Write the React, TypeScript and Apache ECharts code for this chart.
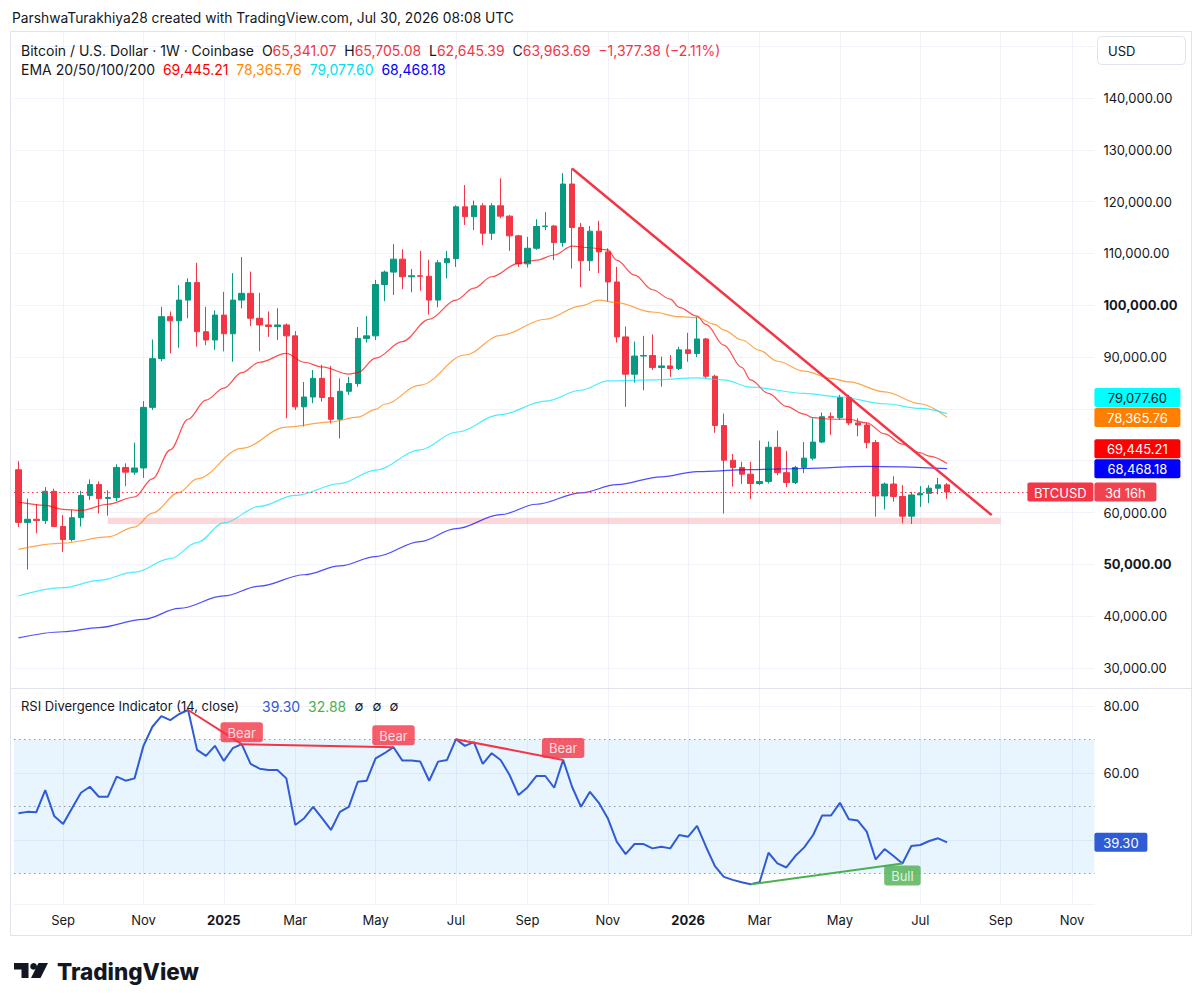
import React, { useEffect, useRef } from 'react';
import * as echarts from 'echarts';

const FONT = 'Inter, "Noto Sans", Roboto, sans-serif';
const INK = '#131722';
const UP = '#089981';
const DOWN = '#f23645';
const GRID = '#f0f3fa';

// Weekly slots (Monday opens) from 29 Jul 2024; the last 16 slots are the empty right margin
const firstWeekUTC = Date.UTC(2024, 6, 29);
const slotCount = 121;
const weeks: string[] = Array.from({ length: slotCount }, (_, i) =>
  new Date(firstWeekUTC + i * 604800000).toISOString().slice(0, 10)
);

const xTickWeeks = [5, 14, 23, 31, 40, 49, 57, 66, 75, 83, 92, 101, 110, 118];
const xTickLabels = ['Sep', 'Nov', '2025', 'Mar', 'May', 'Jul', 'Sep', 'Nov', '2026', 'Mar', 'May', 'Jul', 'Sep', 'Nov'];

// BTC / USD weekly bars: [open, high, low, close]
const btcWeekly: number[][] = [
  [68250, 69900, 57200, 58100], [58100, 62700, 49000, 58700], [58700, 61600, 56000, 58450], [58450, 64900, 57800, 64100],
  [64100, 64600, 57200, 57300], [57300, 59500, 52400, 54800], [54800, 60500, 54400, 59000], [59000, 64200, 57300, 63300],
  [63300, 66400, 62400, 65400], [65400, 66000, 59800, 62700], [62700, 64300, 59400, 62900], [62900, 69300, 62200, 68700],
  [68700, 69500, 65100, 67800], [67800, 73500, 67300, 68600], [68600, 81500, 66700, 80300], [80300, 93400, 79800, 89700],
  [89700, 99700, 89200, 97800], [97800, 98800, 90700, 97000], [97000, 103900, 91800, 101000], [101000, 105200, 97500, 104400],
  [104400, 108200, 92000, 94900], [94900, 99700, 92300, 93300], [93300, 99000, 91400, 98100], [98100, 102600, 91100, 94500],
  [94500, 106200, 89100, 101000], [101000, 109300, 99400, 102300], [102300, 106500, 96000, 97500], [97500, 102400, 91100, 96200],
  [96200, 98800, 93900, 95900], [95900, 99400, 93300, 96200], [96200, 96500, 78200, 94100], [94100, 95000, 79800, 80400],
  [80400, 85200, 76600, 82300], [82300, 87500, 81100, 85900], [85900, 88500, 81400, 82200], [82200, 88300, 77200, 78000],
  [78000, 85900, 74300, 83400], [83400, 86200, 82700, 84900], [84900, 95800, 84300, 93600], [93600, 97900, 92800, 94100],
  [94100, 104900, 93300, 104000], [104000, 106700, 100800, 106400], [106400, 111800, 102000, 108900], [108900, 110800, 103100, 105500],
  [105500, 107000, 102500, 105700], [105700, 110500, 102800, 105600], [105600, 108800, 98200, 101000], [101000, 108700, 99600, 108200],
  [108200, 110500, 105200, 109000], [109000, 119300, 107400, 119000], [119000, 123200, 115500, 117100], [117100, 120200, 114500, 119200],
  [119200, 119700, 111600, 113900], [113900, 119700, 112600, 119200], [119200, 124500, 116800, 117200], [117200, 117400, 110500, 113400],
  [113400, 113600, 107400, 108000], [108000, 113200, 107300, 111000], [111000, 116600, 110700, 115200], [115200, 118000, 114500, 115300],
  [115300, 115500, 108700, 112100], [112100, 125500, 111300, 123400], [123400, 126400, 107100, 115000], [115000, 115900, 103500, 108600],
  [108600, 115300, 106600, 114300], [114300, 116300, 106200, 110300], [110300, 111000, 100700, 104500], [104500, 107400, 92800, 93900],
  [93900, 95900, 80400, 86700], [86700, 93000, 85100, 90200], [90200, 94100, 83600, 90300], [90300, 94400, 87500, 88000],
  [88000, 90100, 84300, 88300], [88300, 90400, 86200, 87800], [87800, 92000, 87500, 91400], [91400, 94700, 89100, 90700],
  [90700, 97800, 90000, 93500], [93500, 93700, 85900, 86300], [86300, 86600, 75400, 76800], [76800, 79100, 59800, 70100],
  [70100, 71300, 65000, 68700], [68700, 69800, 65500, 67400], [67400, 69800, 62600, 65600], [65600, 73900, 65300, 66000],
  [66000, 73700, 65600, 72600], [72600, 75800, 67200, 67700], [67700, 71900, 64900, 65800], [65800, 69000, 65500, 68700],
  [68700, 73600, 67600, 70500], [70500, 78200, 70100, 73600], [73600, 79300, 73400, 78500], [78500, 79300, 75000, 78300],
  [78300, 82700, 77900, 82200], [82200, 82700, 76900, 77300], [77300, 78200, 74700, 76900], [76900, 77300, 72400, 73500],
  [73500, 74000, 59200, 63200], [63200, 65800, 60600, 65500], [65500, 67000, 62100, 63100], [63100, 65300, 57900, 59300],
  [59300, 64000, 57800, 63400], [63400, 65100, 61100, 63700], [63700, 65300, 61800, 64700], [64700, 66700, 63500, 65341.07],
  [65341.07, 65705.08, 62645.39, 63963.69],
];

// Moving averages, sampled as [week, value]
const ema20: number[][] = [
  [0, 62000], [3, 61400], [5, 60600], [7, 60400], [10, 61600], [13, 63000], [15, 66500], [17, 72100], [19, 78000],
  [21, 81700], [23, 84000], [25, 87000], [27, 89000], [30, 90700], [32, 89000], [34, 88100], [37, 86700], [38, 87000],
  [40, 89800], [43, 93000], [46, 97300], [49, 101000], [51, 103300], [53, 105500], [56, 108100], [58, 108700],
  [60, 109700], [62, 111400], [64, 111100], [66, 110700], [67, 108700], [69, 105800], [71, 103000], [73, 101200],
  [74, 99600], [76, 97900], [77, 96300], [79, 92300], [81, 88000], [82, 85600], [84, 83000], [86, 80500], [88, 79000],
  [89, 78300], [91, 78000], [93, 78000], [95, 77300], [97, 75200], [99, 73200], [101, 71500], [102, 70900], [104, 69445.21],
];
const ema50: number[][] = [
  [0, 52900], [5, 54100], [10, 55300], [13, 57200], [15, 59900], [18, 63900], [20, 66500], [25, 72400], [30, 76500],
  [35, 77500], [38, 78400], [40, 79900], [41, 80900], [45, 84600], [50, 90400], [54, 94200], [59, 97300], [63, 99900],
  [65, 101000], [67, 100500], [71, 98700], [74, 97800], [76, 97600], [78, 96300], [79, 95200], [81, 93300], [83, 91300],
  [85, 89200], [88, 87300], [91, 85900], [93, 85200], [97, 83300], [101, 81000], [104, 78365.76],
];
const ema100: number[][] = [
  [0, 43900], [5, 45500], [9, 46900], [13, 48500], [17, 51100], [20, 54200], [23, 58000], [27, 61200], [31, 63300],
  [36, 65600], [40, 68200], [45, 72100], [49, 75500], [54, 78900], [59, 81500], [63, 83600], [66, 85400], [71, 85600],
  [76, 86000], [79, 85600], [82, 84200], [88, 83000], [92, 82300], [97, 81000], [101, 80100], [104, 79077.6],
];
const ema200: number[][] = [
  [0, 35800], [5, 37000], [9, 37800], [14, 39400], [18, 41500], [23, 43900], [27, 45800], [32, 48000], [36, 49700],
  [40, 51500], [45, 54400], [49, 56900], [54, 59600], [58, 61600], [63, 63800], [67, 65400], [72, 66900], [76, 67900],
  [82, 68300], [88, 68500], [95, 68900], [104, 68468.18],
];

// RSI(14) on weekly closes
const rsi14: number[] = [
  48.0, 48.4, 48.3, 54.9, 47.2, 44.8, 49.5, 54.1, 55.9, 52.9, 52.9, 58.9, 57.7, 58.4, 68.1, 73.8, 77.0, 75.8, 77.6, 78.8,
  66.9, 65.1, 68.1, 63.6, 67.4, 68.6, 62.7, 61.3, 60.9, 60.9, 58.4, 44.5, 46.5, 49.9, 46.5, 43.0, 48.4, 49.9, 57.4, 57.7,
  64.4, 65.9, 67.7, 63.7, 63.7, 63.4, 57.7, 63.4, 63.9, 70.1, 68.1, 69.2, 62.7, 65.9, 63.9, 59.4, 53.4, 55.7, 59.1, 59.1,
  55.6, 63.9, 55.9, 49.9, 54.4, 51.1, 46.5, 39.5, 35.8, 38.8, 38.8, 37.5, 38.0, 37.5, 41.5, 41.0, 44.2, 38.0, 32.2, 29.0,
  28.1, 27.4, 26.8, 27.4, 36.2, 33.0, 31.8, 35.2, 37.8, 41.5, 47.3, 47.3, 51.1, 46.2, 45.8, 42.5, 34.2, 37.3, 35.2, 33.0,
  38.2, 38.5, 39.7, 40.5, 39.3,
];
const rsiSecondValue = 32.88;

// Divergences between RSI pivots: [fromWeek, toWeek]
const bearPairs: number[][] = [[19, 25], [25, 42], [49, 61]];
const bullPairs: number[][] = [[82, 99]];

const supportZone = { fromWeek: 10, toWeek: 110, low: 57800, high: 59000 };
const trendLine: number[][] = [[62, 126400], [109, 59500]];

const priceRange = [26140, 152930];
const priceTicks = [30000, 40000, 50000, 60000, 70000, 80000, 90000, 100000, 110000, 120000, 130000, 140000];
const rsiRange = [20.9, 85.37];
const rsiLevels = [70, 50, 30];

const fmt2 = (v: number) =>
  v.toLocaleString('en-US', { minimumFractionDigits: 2, maximumFractionDigits: 2 });
const signed = (v: number) => (v < 0 ? '\u2212' : '+') + fmt2(Math.abs(v));

const emaDefs = [
  { name: 'EMA 20', pts: ema20, line: '#ff0000', tagBg: '#ff0000', tagFg: '#ffffff', legend: '#ff0000' },
  { name: 'EMA 50', pts: ema50, line: '#ff8000', tagBg: '#ff8000', tagFg: '#ffffff', legend: '#ff8a00' },
  { name: 'EMA 100', pts: ema100, line: '#00e5ff', tagBg: '#00ffff', tagFg: INK, legend: '#00e0f0' },
  { name: 'EMA 200', pts: ema200, line: '#0000ff', tagBg: '#0000ff', tagFg: '#ffffff', legend: '#0000ff' },
];

const GRID_LEFT = 14;
const GRID_W = 1080.4;
const GRID_RIGHT = GRID_LEFT + GRID_W;
const TAG_H = 19;

function priceLabelFormatter(hidden: Set<number>) {
  return (v: number) => {
    if (!priceTicks.includes(v) || hidden.has(v)) return '';
    const s = fmt2(v);
    return v === 100000 || v === 50000 ? `{b|${s}}` : s;
  };
}

function buildOption(): any {
  const candles = btcWeekly.map(([o, h, l, c]) => [o, c, l, h]);
  const lastClose = btcWeekly[btcWeekly.length - 1][3];
  const tickSet = new Set(xTickWeeks);
  const tickInterval = (i: number) => tickSet.has(i);

  const xBase = {
    type: 'category',
    data: weeks,
    boundaryGap: true,
    axisLine: { show: false },
    axisTick: { show: false },
    splitLine: { show: true, interval: tickInterval, alignWithLabel: true, lineStyle: { color: GRID, width: 1 } },
  };

  const divergenceSeries = (pairs: number[][], color: string) =>
    pairs.map(([a, b]) => ({
      type: 'line',
      xAxisIndex: 1,
      yAxisIndex: 1,
      data: [[a, rsi14[a]], [b, rsi14[b]]],
      symbol: 'none',
      silent: true,
      lineStyle: { color, width: 2 },
      z: 6,
    }));

  const divergenceLabels = (pairs: number[][], text: string, bg: string, pos: string) => ({
    type: 'scatter',
    xAxisIndex: 1,
    yAxisIndex: 1,
    data: pairs.map(([, b]) => [b, rsi14[b]]),
    symbolSize: 0,
    silent: true,
    z: 8,
    label: {
      show: true,
      position: pos,
      distance: 2,
      formatter: text,
      color: '#ffffff',
      backgroundColor: bg,
      borderRadius: 3,
      padding: [3, 7, 2, 7],
      fontSize: 13,
      lineHeight: 15,
      fontFamily: FONT,
    },
  });

  return {
    animation: false,
    backgroundColor: '#ffffff',
    textStyle: { fontFamily: FONT },
    grid: [
      { left: GRID_LEFT, top: 31, width: GRID_W, height: 657 },
      { left: GRID_LEFT, top: 688, width: GRID_W, height: 216 },
    ],
    xAxis: [
      { ...xBase, gridIndex: 0, axisLabel: { show: false } },
      {
        ...xBase,
        gridIndex: 1,
        axisLabel: {
          show: true,
          interval: tickInterval,
          margin: 9,
          color: INK,
          fontSize: 13,
          fontFamily: FONT,
          formatter: (_v: string, i: number) => {
            const t = xTickLabels[xTickWeeks.indexOf(i)] || '';
            return /^\d{4}$/.test(t) ? `{y|${t}}` : t;
          },
          rich: { y: { fontWeight: 'bold', fontSize: 13, fontFamily: FONT, color: INK } },
        },
      },
    ],
    yAxis: [
      {
        type: 'value',
        gridIndex: 0,
        position: 'right',
        min: priceRange[0],
        max: priceRange[1],
        splitNumber: 13,
        axisLine: { show: false },
        axisTick: { show: false },
        splitLine: { show: true, lineStyle: { color: GRID, width: 1 } },
        axisLabel: {
          showMinLabel: false,
          showMaxLabel: false,
          margin: 9,
          color: INK,
          fontSize: 13,
          fontFamily: FONT,
          formatter: priceLabelFormatter(new Set()),
          rich: { b: { fontWeight: 'bold', fontSize: 13, fontFamily: FONT, color: INK } },
        },
      },
      {
        type: 'value',
        gridIndex: 1,
        position: 'right',
        min: rsiRange[0],
        max: rsiRange[1],
        splitNumber: 3,
        axisLine: { show: false },
        axisTick: { show: false },
        splitLine: { show: true, lineStyle: { color: GRID, width: 1 } },
        axisLabel: {
          showMinLabel: false,
          showMaxLabel: false,
          margin: 9,
          color: INK,
          fontSize: 13,
          fontFamily: FONT,
          formatter: (v: number) => (v === 80 || v === 60 ? v.toFixed(2) : ''),
        },
      },
    ],
    series: [
      {
        type: 'candlestick',
        name: 'BTCUSD',
        xAxisIndex: 0,
        yAxisIndex: 0,
        data: candles,
        barWidth: '66%',
        z: 3,
        itemStyle: { color: UP, color0: DOWN, borderColor: UP, borderColor0: DOWN, borderWidth: 1 },
        markArea: {
          silent: true,
          itemStyle: { color: 'rgba(242,54,69,0.2)' },
          data: [[
            { xAxis: supportZone.fromWeek, yAxis: supportZone.high },
            { xAxis: supportZone.toWeek, yAxis: supportZone.low },
          ]],
        },
        markLine: {
          silent: true,
          symbol: 'none',
          label: { show: false },
          lineStyle: { color: DOWN, type: [1.5, 3], width: 1 },
          data: [{ yAxis: lastClose }],
        },
      },
      ...emaDefs.map((d) => ({
        type: 'line',
        name: d.name,
        xAxisIndex: 0,
        yAxisIndex: 0,
        data: d.pts,
        symbol: 'none',
        smooth: 0.35,
        smoothMonotone: 'x',
        silent: true,
        z: 4,
        lineStyle: { color: d.line, width: 1.2, opacity: 0.7 },
      })),
      {
        type: 'line',
        name: 'Trend',
        xAxisIndex: 0,
        yAxisIndex: 0,
        data: trendLine,
        symbol: 'none',
        silent: true,
        z: 5,
        lineStyle: { color: DOWN, width: 2.5 },
      },
      {
        type: 'line',
        name: 'RSI',
        xAxisIndex: 1,
        yAxisIndex: 1,
        data: rsi14,
        symbol: 'none',
        silent: true,
        z: 5,
        lineStyle: { color: '#2f5cd5', width: 2 },
        markArea: {
          silent: true,
          itemStyle: { color: 'rgba(33,150,243,0.1)' },
          data: [[{ yAxis: 30 }, { yAxis: 70 }]],
        },
        markLine: {
          silent: true,
          symbol: 'none',
          label: { show: false },
          lineStyle: { color: '#9598a1', type: [1.5, 3.5], width: 1 },
          data: rsiLevels.map((v) => ({ yAxis: v })),
        },
      },
      ...divergenceSeries(bearPairs, DOWN),
      ...divergenceSeries(bullPairs, '#4caf50'),
      divergenceLabels(bearPairs, 'Bear', DOWN, 'top'),
      divergenceLabels(bullPairs, 'Bull', '#4caf50', 'bottom'),
    ],
  };
}

function text(x: number, y: number, content: string, extra: any = {}, z = 50): any {
  return {
    type: 'text',
    x,
    y,
    z,
    silent: true,
    style: {
      text: content,
      fill: INK,
      fontSize: 13,
      fontFamily: FONT,
      align: 'left',
      verticalAlign: 'middle',
      textAlign: 'left',
      textVerticalAlign: 'middle',
      ...extra,
    },
  };
}

function tag(x: number, yMid: number, w: number, label: string, bg: string, fg: string): any[] {
  return [
    { type: 'rect', z: 90, silent: true, shape: { x, y: yMid - TAG_H / 2, width: w, height: TAG_H, r: 2 }, style: { fill: bg } },
    text(x + w / 2, yMid + 0.5, label, { fill: fg, align: 'center', textAlign: 'center' }, 91),
  ];
}

function buildOverlay(chart: any): { elements: any[]; hiddenTicks: Set<number> } {
  const py = (v: number) => chart.convertToPixel({ yAxisIndex: 0 }, v) as number;
  const ry = (v: number) => chart.convertToPixel({ yAxisIndex: 1 }, v) as number;
  const els: any[] = [];

  // frame and pane divider
  els.push({
    type: 'rect', z: 1, silent: true,
    shape: { x: 10.5, y: 31.5, width: 1181, height: 904 },
    style: { fill: 'none', stroke: '#e0e3eb', lineWidth: 1 },
  });
  els.push({
    type: 'line', z: 1, silent: true,
    shape: { x1: 11, y1: 688.5, x2: 1191, y2: 688.5 },
    style: { stroke: '#e0e3eb', lineWidth: 1 },
  });

  // header
  els.push(text(12, 18, 'ParshwaTurakhiya28 created with TradingView.com, Jul 30, 2026 08:08 UTC', { fontSize: 13.8 }));

  const last = btcWeekly[btcWeekly.length - 1];
  const prevClose = btcWeekly[btcWeekly.length - 2][3];
  const chg = last[3] - prevClose;
  const pct = (chg / prevClose) * 100;
  const valColor = chg < 0 ? DOWN : UP;
  const rich = {
    k: { fill: INK, fontSize: 14, fontFamily: FONT },
    v: { fill: valColor, fontSize: 14, fontFamily: FONT },
  };
  els.push(text(21, 50,
    `{k|Bitcoin / U.S. Dollar \u00b7 1W \u00b7 Coinbase}  {k|O}{v|${fmt2(last[0])}}  {k|H}{v|${fmt2(last[1])}}  ` +
    `{k|L}{v|${fmt2(last[2])}}  {k|C}{v|${fmt2(last[3])}}  {v|${signed(chg)} (${signed(pct)}%)}`,
    { rich, fontSize: 14 }));

  const emaRich: any = { k: { fill: INK, fontSize: 14, fontFamily: FONT } };
  let emaLine = '{k|EMA 20/50/100/200}';
  emaDefs.forEach((d, i) => {
    emaRich['e' + i] = { fill: d.legend, fontSize: 14, fontFamily: FONT };
    emaLine += `  {e${i}|${fmt2(d.pts[d.pts.length - 1][1])}}`;
  });
  els.push(text(21, 69, emaLine, { rich: emaRich, fontSize: 14 }));

  // RSI legend
  const rsiLast = rsi14[rsi14.length - 1];
  els.push(text(21, 706, 'RSI Divergence Indicator (14, close)'));
  els.push(text(262, 706, rsiLast.toFixed(2), { fill: '#2f5cd5', fontSize: 14 }));
  els.push(text(308, 706, rsiSecondValue.toFixed(2), { fill: '#4caf50', fontSize: 14 }));
  [359, 377, 394].forEach((cx) => els.push(text(cx, 706, '\u2205', { align: 'center', textAlign: 'center', fontSize: 13 })));

  // currency box
  els.push({
    type: 'rect', z: 60, silent: true,
    shape: { x: 1097.5, y: 36.5, width: 88, height: 28, r: 4 },
    style: { fill: '#ffffff', stroke: '#e0e3eb', lineWidth: 1 },
  });
  els.push(text(1108, 51, 'USD', {}, 61));

  // last-value tags of the moving averages, stacked so they do not overlap
  const tags = emaDefs.map((d) => {
    const v = d.pts[d.pts.length - 1][1];
    return { v, y: py(v), bg: d.tagBg, fg: d.tagFg };
  });
  tags.sort((a, b) => b.y - a.y);
  for (let i = 1; i < tags.length; i++) tags[i].y = Math.min(tags[i].y, tags[i - 1].y - TAG_H - 1);
  tags.forEach((t) => els.push(...tag(GRID_RIGHT, t.y, 86, fmt2(t.v), t.bg, t.fg)));

  // symbol + countdown tag at the last close
  const yClose = py(last[3]);
  els.push(...tag(GRID_RIGHT - 67, yClose, 66, 'BTCUSD', DOWN, '#ffffff'));
  els.push(...tag(GRID_RIGHT, yClose, 62, '3d 16h', '#f0424f', '#ffffff'));

  // axis labels that sit under a tag are left out
  const tagYs = [...tags.map((t) => t.y), yClose];
  const hiddenTicks = new Set(priceTicks.filter((v) => tagYs.some((ty) => Math.abs(py(v) - ty) < TAG_H - 2)));

  // RSI last-value tag
  els.push(...tag(GRID_RIGHT, ry(rsiLast), 53, rsiLast.toFixed(2), '#2f5cd5', '#ffffff'));

  // TradingView wordmark
  els.push({
    type: 'polygon', z: 50, silent: true,
    shape: { points: [[14, 963], [28.5, 963], [28.5, 978], [21.5, 978], [21.5, 969.5], [14, 969.5]] },
    style: { fill: INK },
  });
  els.push({ type: 'circle', z: 50, silent: true, shape: { cx: 33.6, cy: 966.4, r: 3.4 }, style: { fill: INK } });
  els.push({
    type: 'polygon', z: 50, silent: true,
    shape: { points: [[38.5, 963], [48, 963], [40.5, 978], [31, 978]] },
    style: { fill: INK },
  });
  els.push(text(57, 971, 'TradingView', { fontSize: 22.5, fontWeight: 800 }));

  return { elements: els, hiddenTicks };
}

export default function App() {
  const ref = useRef<HTMLDivElement>(null);
  useEffect(() => {
    const el = ref.current;
    if (!el) return;
    const chart = echarts.init(el, undefined, { renderer: 'svg' });
    chart.setOption(buildOption());
    const overlay = buildOverlay(chart);
    chart.setOption({
      yAxis: [{ axisLabel: { formatter: priceLabelFormatter(overlay.hiddenTicks) } }, {}],
      graphic: { elements: overlay.elements },
    });
    return () => chart.dispose();
  }, []);
  return (
    <div
      ref={ref}
      style={{ position: 'absolute', left: 0, top: 0, width: 1204, height: 1005, background: '#ffffff' }}
    />
  );
}
